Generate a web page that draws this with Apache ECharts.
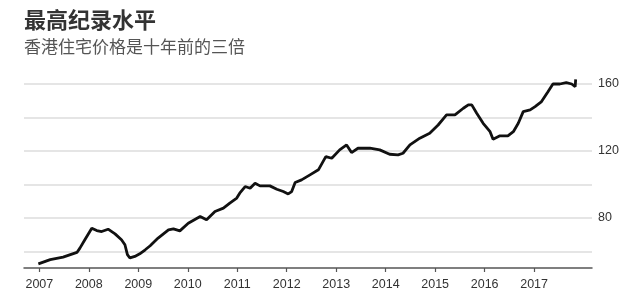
<!DOCTYPE html>
<html>
<head>
<meta charset="utf-8">
<script src="https://cdn.jsdelivr.net/npm/echarts@6/dist/echarts.min.js"></script>
<style>html,body{margin:0;padding:0;background:#fff}#c{width:640px;height:297px}</style>
</head>
<body>
<div id="c"></div>
<script>
const years = [2006.98,2007.22,2007.48,2007.76,2007.82,2007.92,2008.06,2008.16,2008.26,2008.39,2008.53,2008.66,2008.73,2008.78,2008.83,2008.93,2009.03,2009.14,2009.24,2009.40,2009.61,2009.71,2009.84,2010.01,2010.25,2010.38,2010.55,2010.72,2010.85,2010.99,2011.05,2011.16,2011.26,2011.36,2011.46,2011.66,2011.80,2011.93,2012.03,2012.10,2012.17,2012.30,2012.47,2012.64,2012.79,2012.91,2013.07,2013.21,2013.31,2013.44,2013.68,2013.88,2014.08,2014.25,2014.35,2014.49,2014.69,2014.89,2015.06,2015.23,2015.40,2015.57,2015.67,2015.74,2015.84,2015.97,2016.11,2016.17,2016.31,2016.47,2016.58,2016.68,2016.78,2016.92,2017.02,2017.15,2017.28,2017.38,2017.52,2017.65,2017.76,2017.83,2017.84];
const prices = [52.5,55,56.5,59.3,61.9,66.9,73.8,72.4,71.8,73.2,70.4,66.9,63.9,58,56,56.9,58.5,60.9,63.3,67.9,72.8,73.4,72.2,76.8,80.8,78.8,83.8,85.8,88.8,91.8,94.7,98.7,97.7,100.7,99.1,99.1,97.1,95.7,94.3,95.7,101.1,102.7,105.7,108.7,116.6,115.6,120.6,123.6,119,121.6,121.6,120.6,118,117.6,118.6,123.6,127.6,130.6,135.5,141.5,141.5,145.5,147.5,147.5,142.5,136.5,131.5,127,129,129,131.5,136.5,143.5,144.5,146.5,149.5,155.4,160,160,160.8,160,158.4,162.8];
const yearTicks = [2007,2008,2009,2010,2011,2012,2013,2014,2015,2016,2017];
const yLabels = [80,120,160];
const titleText = '最高纪录水平';
const subtitleText = '香港住宅价格是十年前的三倍';

const chart = echarts.init(document.getElementById('c'), null, {renderer:'canvas'});
const latin = '"Liberation Sans", Arial, "Noto Sans CJK SC", sans-serif';
chart.setOption({
  animation: false,
  backgroundColor: '#fff',
  title: {
    text: titleText,
    subtext: subtitleText,
    left: 19, top: 2,
    itemGap: 4,
    textStyle: {fontSize: 22, fontWeight: 'bold', color: '#333', fontFamily: '"Noto Sans CJK SC", sans-serif', lineHeight: 26},
    subtextStyle: {fontSize: 17, color: '#555', fontFamily: '"Noto Sans CJK SC", sans-serif', lineHeight: 20}
  },
  grid: {left: 24, right: 48, top: 84, bottom: 29, containLabel: false, outerBoundsMode: 'none'},
  xAxis: {
    type: 'value', min: 2006.69, max: 2018.17,
    splitLine: {show: false},
    axisLine: {show: true, lineStyle: {color: '#555', width: 1.5}},
    axisTick: {show: true, customValues: yearTicks, length: 4, lineStyle: {color: '#555', width: 1.2}},
    axisLabel: {customValues: yearTicks, formatter: v => String(v), color: '#333', fontSize: 12.5, margin: 10, fontFamily: latin}
  },
  yAxis: {
    type: 'value', position: 'right', min: 50, max: 160, interval: 10,
    axisLine: {show: false}, axisTick: {show: false},
    splitLine: {show: true, lineStyle: {color: ['rgba(0,0,0,0)', '#dcdcdc'], width: 1.5}},
    axisLabel: {formatter: v => yLabels.indexOf(v) >= 0 ? String(v) : '', color: '#333', fontSize: 12.5, margin: 6, fontFamily: latin}
  },
  series: [{
    type: 'line',
    data: years.map((y, i) => [y, prices[i]]),
    showSymbol: false,
    clip: false,
    lineStyle: {color: '#111', width: 2.8},
    z: 5
  }]
});
</script>
</body>
</html>
